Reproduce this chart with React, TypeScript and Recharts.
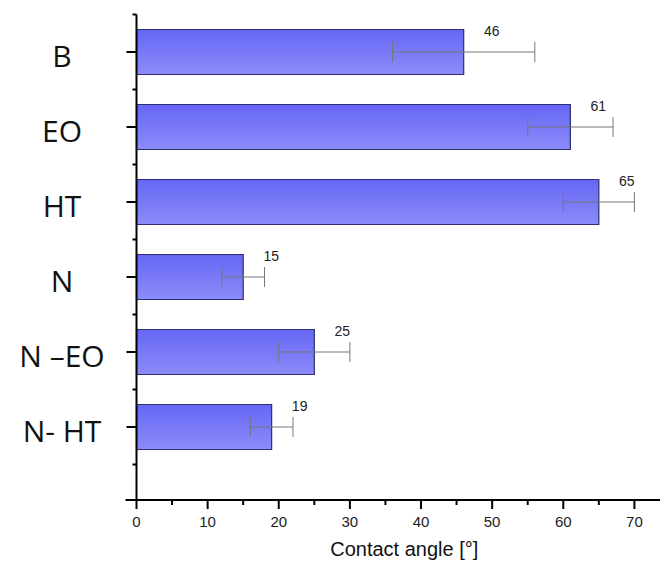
import { Bar, BarChart, ErrorBar, LabelList, Label, XAxis, YAxis } from 'recharts';

const categories = ['B', 'EO', 'HT', 'N', 'N \u2013EO', 'N- HT'];
const angles = [46, 61, 65, 15, 25, 19];
const errors = [10, 6, 5, 3, 5, 3];
const xTicks = [0, 5, 10, 15, 20, 25, 30, 35, 40, 45, 50, 55, 60, 65, 70];

const data = categories.map((name, i) => ({ name, angle: angles[i], err: errors[i] }));

// axis positions in the svg (margin + axis sizes below)
const AXIS_X = 136.5;
const AXIS_Y = 500;

function YTick(props: any) {
  const { y, payload, index } = props;
  const half = 37.5;
  const last = index === categories.length - 1;
  return (
    <g>
      <line x1={AXIS_X - 10} x2={AXIS_X} y1={y} y2={y} stroke="#000" strokeWidth={2} />
      <line x1={AXIS_X - 4} x2={AXIS_X} y1={y - half} y2={y - half} stroke="#000" strokeWidth={2} />
      {last && <line x1={AXIS_X - 4} x2={AXIS_X} y1={y + half} y2={y + half} stroke="#000" strokeWidth={2} />}
      {last && <line x1={AXIS_X - 11} x2={AXIS_X} y1={AXIS_Y} y2={AXIS_Y} stroke="#000" strokeWidth={2} />}
      <text x={62} y={y + 3} textAnchor="middle" dominantBaseline="central"
        fontFamily="'Open Sans', sans-serif" fontSize={30} fill="#111">
        {payload.value}
      </text>
    </g>
  );
}

function XTick(props: any) {
  const { x, payload } = props;
  const major = payload.value % 10 === 0;
  return (
    <g>
      <line x1={x} x2={x} y1={AXIS_Y} y2={AXIS_Y + (major ? 9 : 5)} stroke="#000" strokeWidth={2} />
      {major && (
        <text x={x} y={AXIS_Y + 21} textAnchor="middle" dominantBaseline="central"
          fontFamily="'Liberation Sans', Arial, sans-serif" fontSize={15} fill="#222">
          {payload.value}
        </text>
      )}
    </g>
  );
}

function ValueLabel(props: any) {
  const { x, y, width, value } = props;
  return (
    <text x={x + width + 28} y={y + 1} textAnchor="middle" dominantBaseline="central"
      fontFamily="'Liberation Sans', Arial, sans-serif" fontSize={14} fill="#222">
      {value}
    </text>
  );
}

export default function App() {
  return (
    <div style={{ position: 'absolute', left: 0, top: 0 }}>
      <BarChart width={662} height={563} data={data} layout="vertical"
        margin={{ top: 14.5, right: 2, bottom: 0, left: 0 }}>
        <defs>
          <linearGradient id="barGrad" x1="0" y1="0" x2="0" y2="1">
            <stop offset="0%" stopColor="#6666f5" />
            <stop offset="100%" stopColor="#8c8cfa" />
          </linearGradient>
        </defs>
        <XAxis type="number" domain={[0, 73.6]} ticks={xTicks} interval={0} height={63}
          axisLine={{ stroke: '#000', strokeWidth: 2 }} tickLine={false} tick={<XTick />}>
          <Label value="Contact angle [°]" position="insideBottom" offset={7} dx={6}
            style={{ fontFamily: "'Liberation Sans', Arial, sans-serif", fontSize: 20, fill: '#111' }} />
        </XAxis>
        <YAxis type="category" dataKey="name" width={136.5} padding={{ top: 0, bottom: 35.5 }}
          axisLine={{ stroke: '#000', strokeWidth: 2 }} tickLine={false} tick={<YTick />} interval={0} />
        <Bar dataKey="angle" barSize={45} fill="url(#barGrad)" stroke="#2e2e70" strokeWidth={1.2}
          isAnimationActive={false}>
          <ErrorBar dataKey="err" direction="x" width={10} stroke="#777" strokeWidth={1} />
          <LabelList dataKey="angle" content={<ValueLabel />} />
        </Bar>
      </BarChart>
    </div>
  );
}
